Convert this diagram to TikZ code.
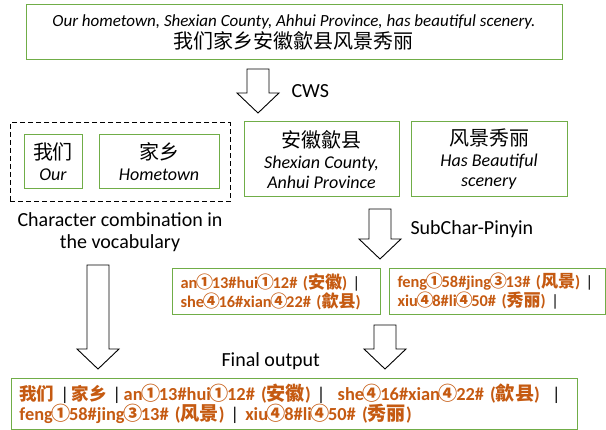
\documentclass[tikz,border=0pt]{standalone}
\usepackage{fontspec}
\setmainfont{Carlito}
\newfontfamily\cjk{Noto Sans CJK SC}
\newfontfamily\cjkcode{Noto Sans CJK SC}[Scale=1.04]
\usepackage{xcolor}
\usetikzlibrary{positioning,calc}

\definecolor{boxgreen}{RGB}{112,173,71}
\definecolor{pyorange}{RGB}{197,90,17}

\newcommand{\zh}[1]{{\cjkcode #1}}
\newcommand{\zhword}[1]{{\cjk\fontsize{17.5}{20}\selectfont #1}}
\newcommand{\cnum}[1]{\kern-0.08em{\cjkcode #1}\kern-0.08em}
\newcommand{\sepbar}{\textcolor{black}{\mdseries |}}
% block arrow: start, tip, head length
\newcommand{\blockarrow}[3]{%
  \draw[arrowline] ($(#1)+(-11,0)$) -- ($(#2)+(-11,-#3)$) -- ($(#2)+(-21,-#3)$) -- (#2)
    -- ($(#2)+(21,-#3)$) -- ($(#2)+(11,-#3)$) -- ($(#1)+(11,0)$) -- cycle;}

\tikzset{
  wordbox/.style={draw=boxgreen, line width=1pt, align=center, inner sep=0pt},
  codebox/.style={draw=boxgreen, line width=1pt, align=left, inner xsep=8pt, inner ysep=0pt,
    anchor=north west, text=pyorange, font=\bfseries\fontsize{16.4}{19}\selectfont},
  arrowline/.style={draw=black, line width=0.9pt, fill=white},
  steplabel/.style={font=\fontsize{20}{22}\selectfont}
}

\begin{document}
\begin{tikzpicture}[x=1pt, y=-1pt]
    \useasboundingbox (0,0) rectangle (606,430);

    % Input sentence
    \node[wordbox, minimum width=536, minimum height=55, font=\fontsize{17}{22}\selectfont] (sentence) at (294,32.5)
        {\textit{Our hometown, Shexian County, Ahhui Province, has beautiful scenery.}\\
         {\cjk\fontsize{20}{22}\selectfont 我们家乡安徽歙县风景秀丽}};

    % CWS step
    \coordinate (cwsA) at (258,69);
    \coordinate (cwsB) at (258,113);
    \blockarrow{cwsA}{cwsB}{20}
    \node[steplabel, anchor=west] (cws) at (288,91) {CWS};

    % Segmented words
    \node[draw, dash pattern=on 5pt off 3pt, line width=1pt, minimum width=220, minimum height=79] (vocab) at (120,162.5) {};
    \node[wordbox, minimum width=58, minimum height=54, font=\fontsize{18}{21}\selectfont] (women) at (53,162)
        {{\cjk\fontsize{20}{21}\selectfont 我们}\\\textit{Our}};
    \node[wordbox, minimum width=120, minimum height=54, font=\fontsize{18}{21}\selectfont] (jiaxiang) at (159,162)
        {{\cjk\fontsize{20}{21}\selectfont 家乡}\\\textit{Hometown}};
    \node[wordbox, minimum width=155, minimum height=75, font=\fontsize{18}{21}\selectfont] (shexian) at (321.5,159.5)
        {{\cjk\fontsize{20}{21}\selectfont 安徽歙县}\\\textit{Shexian County,}\\[-1pt]\textit{Anhui Province}};
    \node[wordbox, minimum width=156, minimum height=75, font=\fontsize{18}{21}\selectfont] (fengjing) at (489,159.5)
        {{\cjk\fontsize{20}{21}\selectfont 风景秀丽}\\\textit{Has Beautiful}\\[-1pt]\textit{scenery}};

    \node[steplabel, align=center] (vocabnote) at (120,232) {Character combination in\\the vocabulary};

    % SubChar-Pinyin step
    \coordinate (pyA) at (380,209);
    \coordinate (pyB) at (380,259);
    \blockarrow{pyA}{pyB}{20}
    \node[steplabel, anchor=west] (subchar) at (407,229) {SubChar-Pinyin};

    \node[codebox, text width=192, minimum height=46] (pyshexian) at (172,268)
        {\mbox{an\cnum{①}13\#hui\cnum{①}12\# (\zh{安徽}) \sepbar}\\
         \mbox{she\cnum{④}16\#xian\cnum{④}22\# (\zh{歙县})}};
    \node[codebox, text width=200, minimum height=46] (pyfengjing) at (389,268)
        {\mbox{feng\cnum{①}58\#jing\cnum{③}13\# (\zh{风景}) \sepbar}\\
         \mbox{xiu\cnum{④}8\#li\cnum{④}50\# (\zh{秀丽}) \sepbar}};

    % Final output
    \coordinate (vocabA) at (98,265);
    \coordinate (vocabB) at (98,369);
    \blockarrow{vocabA}{vocabB}{20}
    \coordinate (finalA) at (385,325);
    \coordinate (finalB) at (385,369);
    \blockarrow{finalA}{finalB}{20}
    \node[steplabel, anchor=west] (finallabel) at (218,361) {Final output};

    \node[codebox, text width=550, minimum height=51, font=\bfseries\fontsize{18.4}{20}\selectfont] (output) at (11,378)
        {\mbox{\zhword{我们} \sepbar\hspace{2.5pt}\zhword{家乡} \sepbar\hspace{2.5pt}an\cnum{①}13\#hui\cnum{①}12\# (\zh{安徽}) \sepbar{}\ \ she\cnum{④}16\#xian\cnum{④}22\# (\zh{歙县})\ \ \sepbar}\\
         \mbox{feng\cnum{①}58\#jing\cnum{③}13\# (\zh{风景}) \sepbar{} xiu\cnum{④}8\#li\cnum{④}50\# (\zh{秀丽})}};
\end{tikzpicture}
\end{document}
